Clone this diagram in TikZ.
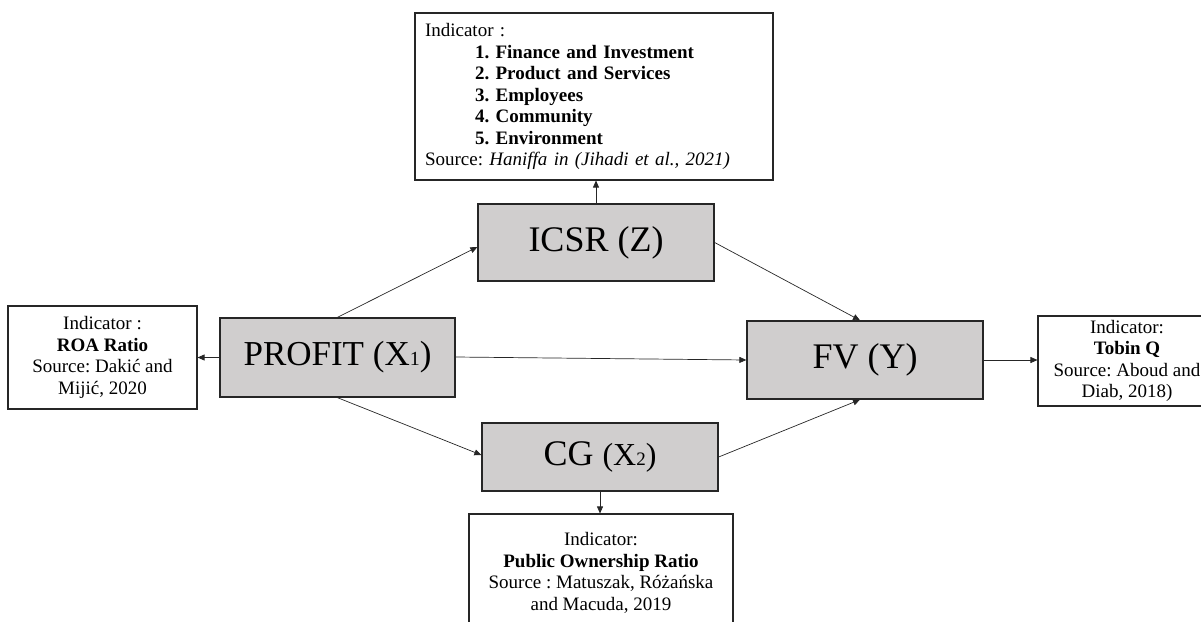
\documentclass[tikz,border=0pt]{standalone}
\usepackage{fontspec}
\setmainfont{Liberation Serif}
\usetikzlibrary{arrows.meta,calc}
\definecolor{boxgray}{HTML}{D0CECE}
\definecolor{edgegray}{HTML}{262626}
\frenchspacing
\begin{document}
\begin{tikzpicture}[x=1pt,y=-1pt,
  mainbox/.style={draw=edgegray,line width=1.3pt,fill=boxgray,rectangle,inner sep=0pt,font=\fontsize{36}{40}\selectfont},
  infobox/.style={draw=edgegray,line width=1.1pt,fill=white,rectangle,inner sep=0pt,align=center,font=\fontsize{19}{21.5}\selectfont},
  link/.style={draw=black!85,line width=0.7pt,-{Triangle[length=7pt,width=6pt]}}]
\useasboundingbox (0,0) rectangle (1201,621);
\begin{scope}
\clip (0,0) rectangle (1201,621);
% info boxes
\node[infobox,align=left,text width=338pt,minimum width=358pt,minimum height=167pt] (top) at (594,96.5)
  {Indicator :\\
   \hspace*{50pt}\textbf{1. Finance and Investment}\\
   \hspace*{50pt}\textbf{2. Product and Services}\\
   \hspace*{50pt}\textbf{3. Employees}\\
   \hspace*{50pt}\textbf{4. Community}\\
   \hspace*{50pt}\textbf{5. Environment}\\
   Source: \textit{Haniffa in (Jihadi et al., 2021)}};
\node[infobox,minimum width=189pt,minimum height=103pt] (left) at (102.5,357.5)
  {Indicator :\\ \textbf{ROA Ratio}\\ Source: Dakić and\\ Mijić, 2020};
\node[infobox,minimum width=178pt,minimum height=90pt] (right) at (1127,361)
  {Indicator:\\ \textbf{Tobin Q}\\ Source: Aboud and\\ Diab, 2018)};
\node[infobox,minimum width=264pt,minimum height=118pt] (bottom) at (601,573)
  {Indicator:\\ \textbf{Public Ownership Ratio}\\ Source : Matuszak, Różańska\\ and Macuda, 2019};
% main boxes
\node[mainbox,minimum width=236pt,minimum height=77pt] (icsr) at (596,242.5) {ICSR (Z)};
\node[mainbox,minimum width=235pt,minimum height=79pt,font=\fontsize{35}{40}\selectfont] (profit) at (337.5,357.5)
  {PROFIT (X{\fontsize{20}{20}\selectfont 1})};
\node[mainbox,minimum width=236pt,minimum height=78pt] (fv) at (865,360) {FV (Y)};
\node[mainbox,minimum width=236pt,minimum height=68pt] (cg) at (600,457)
  {CG {\fontsize{32}{36}\selectfont (X{\fontsize{19}{19}\selectfont 2})}};
% connectors
\draw[link] (profit.north) -- ([yshift=-4.5pt]icsr.west);
\draw[link] (icsr.east) -- ([xshift=-5pt]fv.north);
\draw[link] ([yshift=0.5pt]profit.east) -- (fv.west);
\draw[link] (profit.south) -- ([yshift=2pt]cg.west);
\draw[link] (cg.east) -- ([xshift=-5pt]fv.south);
\draw[link] (cg.south) -- (cg.south |- bottom.north);
\draw[link] (fv.east) -- (fv.east -| right.west);
\draw[link] (icsr.north) -- (icsr.north |- top.south);
\draw[link] (profit.west) -- (profit.west -| left.east);
\end{scope}
\end{tikzpicture}
\end{document}
